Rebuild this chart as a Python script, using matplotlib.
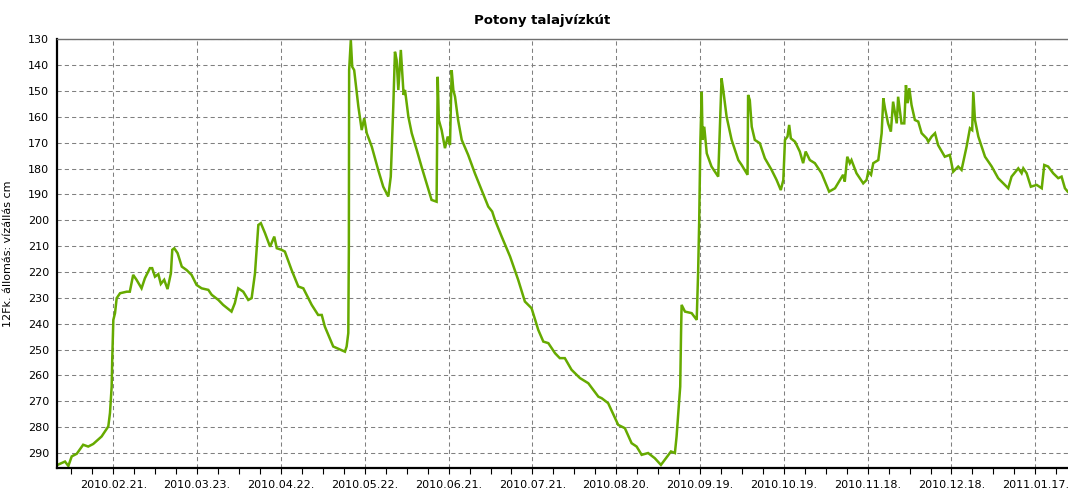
import pandas as pd
import matplotlib
matplotlib.use("Agg")
import matplotlib.pyplot as plt
from matplotlib.ticker import FixedLocator, MultipleLocator

# days since 2010-02-01 and water level (cm below surface)
days = [0, 2.7, 3.9, 5.1, 6.9, 9.2, 11.0, 12.8, 15.8, 18.2, 18.8, 19.4, 19.6, 20.0,
        20.6, 21.2, 22.4, 24.8, 25.9, 27.1, 28.3, 30.1, 31.3, 33.1, 33.9, 34.9,
        36.1, 37.0, 38.2, 39.4, 40.6, 41.1, 41.8, 43.0, 44.5, 46.2, 48.0, 49.8,
        51.6, 54.0, 55.2, 57.6, 59.3, 62.3, 63.5, 64.7, 66.5, 68.3, 69.5, 70.7,
        71.9, 72.8, 74.3, 76.1, 77.6, 78.5, 80.2, 81.4, 83.8, 86.2, 88.0, 91.0,
        93.3, 94.6, 95.7, 98.7, 102.9, 103.5, 104.1, 104.3, 104.4, 105.0, 105.5,
        106.2, 107.7, 108.9, 109.8, 110.7, 112.5, 114.8, 116.6, 118.4, 119.3,
        120.2, 120.8, 121.4, 122.0, 122.9, 123.9, 124.4, 125.6, 126.8, 128.6,
        130.3, 132.1, 133.9, 135.7, 136.1, 136.5, 137.5, 138.7, 139.7, 140.5,
        141.1, 141.7, 142.3, 143.4, 144.7, 147.0, 149.4, 151.8, 154.2, 155.6,
        156.6, 159.0, 162.0, 164.9, 167.3, 169.7, 172.1, 173.9, 175.7, 178.1,
        179.8, 181.6, 184.0, 187.0, 190.0, 193.6, 194.8, 197.1, 200.7, 203.1,
        205.5, 207.3, 209.1, 211.4, 213.8, 216.0, 217.4, 219.6, 221.0, 221.6,
        222.4, 222.9, 223.2, 223.4, 224.6, 227.0, 228.8, 229.3, 229.7, 230.1,
        230.6, 230.9, 231.5, 232.4, 234.1, 236.5, 236.9, 237.7, 238.3, 239.5,
        241.3, 243.7, 244.9, 247.0, 247.2, 247.8, 248.5, 249.6, 251.4, 253.2,
        255.6, 257.4, 258.9, 259.8, 260.4, 261.3, 261.9, 262.5, 264.0, 265.7,
        266.9, 267.8, 269.3, 271.1, 273.5, 276.2, 278.3, 280.1, 281.2, 281.8,
        282.7, 283.6, 284.2, 286.0, 288.4, 289.6, 290.2, 291.2, 292.0, 293.8,
        295.0, 295.6, 296.2, 297.3, 298.3, 299.1, 300.4, 300.9, 302.1, 303.1,
        303.7, 304.3, 304.9, 305.7, 306.9, 308.1, 309.3, 311.1, 311.7, 312.9,
        314.1, 315.2, 317.6, 319.4, 320.6, 322.4, 323.6, 325.4, 326.6, 327.4,
        327.8, 328.4, 329.6, 332.0, 334.4, 336.7, 340.3, 341.5, 343.9, 345.1,
        345.7, 346.9, 348.4, 350.5, 352.3, 353.2, 354.6, 356.4, 358.2, 359.4,
        360.6, 361.6]
level = [294.6, 293.3, 295.0, 291.3, 290.3, 286.8, 287.5, 286.5, 283.6, 279.7, 274.5,
         264.3, 254.0, 238.5, 235.9, 230.1, 228.2, 227.6, 227.6, 221.1, 223.0, 226.3,
         222.4, 218.5, 218.5, 221.8, 220.8, 224.6, 223.0, 226.6, 220.5, 211.4, 210.8,
         212.7, 217.9, 219.2, 221.1, 225.0, 226.3, 226.9, 228.8, 230.8, 232.7, 235.3,
         232.0, 226.3, 227.6, 230.8, 230.1, 220.5, 201.8, 201.1, 205.0, 210.2, 206.3,
         210.8, 211.4, 212.1, 219.2, 225.6, 226.3, 232.7, 236.6, 236.6, 241.1, 248.8,
         250.8, 248.8, 243.6, 210.2, 141.9, 130.3, 140.6, 141.9, 156.0, 165.1, 160.5,
         166.3, 171.5, 180.5, 187.0, 190.8, 183.1, 156.0, 134.8, 138.0, 149.6, 134.1,
         151.5, 149.6, 159.9, 166.3, 172.8, 179.2, 185.7, 192.1, 192.8, 144.5, 161.2,
         165.1, 172.1, 167.6, 170.9, 141.9, 149.6, 152.2, 161.2, 168.9, 174.7, 181.8,
         188.3, 194.7, 196.6, 199.9, 206.3, 214.0, 223.0, 231.4, 234.0, 242.4, 246.9,
         247.5, 251.4, 253.3, 253.3, 257.8, 261.0, 263.0, 268.2, 268.8, 270.7, 279.1,
         280.4, 286.2, 287.5, 290.7, 290.0, 292.0, 294.6, 292.6, 289.4, 290.0, 283.6,
         272.0, 264.3, 243.6, 232.7, 235.3, 235.9, 238.5, 220.5, 199.9, 170.2, 150.3,
         168.9, 163.8, 174.1, 179.2, 183.1, 170.2, 145.1, 149.6, 159.9, 168.9, 176.7,
         178.6, 182.4, 151.5, 153.5, 163.8, 168.9, 170.2, 176.0, 180.5, 184.4, 188.3,
         184.4, 168.9, 167.6, 163.1, 168.3, 169.6, 173.4, 177.9, 173.4, 176.7, 177.9,
         181.8, 188.9, 187.6, 184.4, 182.4, 185.0, 175.4, 177.9, 176.7, 181.8, 185.7,
         184.4, 181.2, 182.4, 177.9, 176.7, 166.3, 152.8, 156.7, 162.5, 165.7, 154.1,
         162.5, 152.2, 162.5, 162.5, 147.7, 154.7, 148.9, 155.4, 161.2, 161.8, 166.3,
         168.3, 169.6, 167.6, 166.3, 170.9, 175.4, 174.7, 181.2, 179.2, 180.5, 171.5,
         164.4, 165.1, 150.3, 161.2, 167.6, 175.4, 179.2, 183.7, 187.6, 183.1, 179.9,
         181.8, 179.9, 181.8, 187.0, 186.3, 187.6, 178.6, 179.2, 181.8, 183.7, 183.1,
         187.6, 188.9]

tick_labels = ["2010.02.21.", "2010.03.23.", "2010.04.22.", "2010.05.22.",
               "2010.06.21.", "2010.07.21.", "2010.08.20.", "2010.09.19.",
               "2010.10.19.", "2010.11.18.", "2010.12.18.", "2011.01.17."]
y_ticks = list(range(130, 300, 10))

start = pd.Timestamp("2010-02-01")
tick_days = [(pd.to_datetime(t, format="%Y.%m.%d.") - start).days for t in tick_labels]

plt.rcParams["font.family"] = ["DejaVu Sans"]

fig = plt.figure(figsize=(10.68, 4.91), dpi=100)
ax = fig.add_axes([0.0538, 0.0468, 0.9462, 0.8731])

ax.plot(days, level, color="#66aa00", lw=1.8, solid_joinstyle="miter")

ax.set_xlim(0, 361.7)
ax.set_ylim(295.8, 130)

ax.xaxis.set_major_locator(FixedLocator(tick_days))
ax.set_xticklabels(tick_labels)
ax.xaxis.set_minor_locator(MultipleLocator(7.5, offset=5))
ax.set_yticks(y_ticks)

ax.grid(True, which="major", color="#808080", lw=0.75, ls=(0, (4, 3)))
ax.set_axisbelow(True)

ax.tick_params(axis="y", length=0, pad=6, labelsize=8)
ax.tick_params(axis="x", which="both", length=4, width=0.8, pad=4.5, labelsize=8)

for side in ("left", "bottom"):
    ax.spines[side].set_linewidth(1.6)
    ax.spines[side].set_color("black")
ax.spines["top"].set_color("#707070")
ax.spines["top"].set_linewidth(1.0)
ax.spines["right"].set_visible(False)

ax.set_ylabel("12Fk. állomás: vízállás cm", fontsize=8)
ax.yaxis.set_label_coords(-0.044, 0.5)

fig.text(0.508, 0.958, "Potony talajvízkút", ha="center", va="center",
         fontsize=9.5, fontweight="bold")

fig.savefig("out.png", dpi=100)
